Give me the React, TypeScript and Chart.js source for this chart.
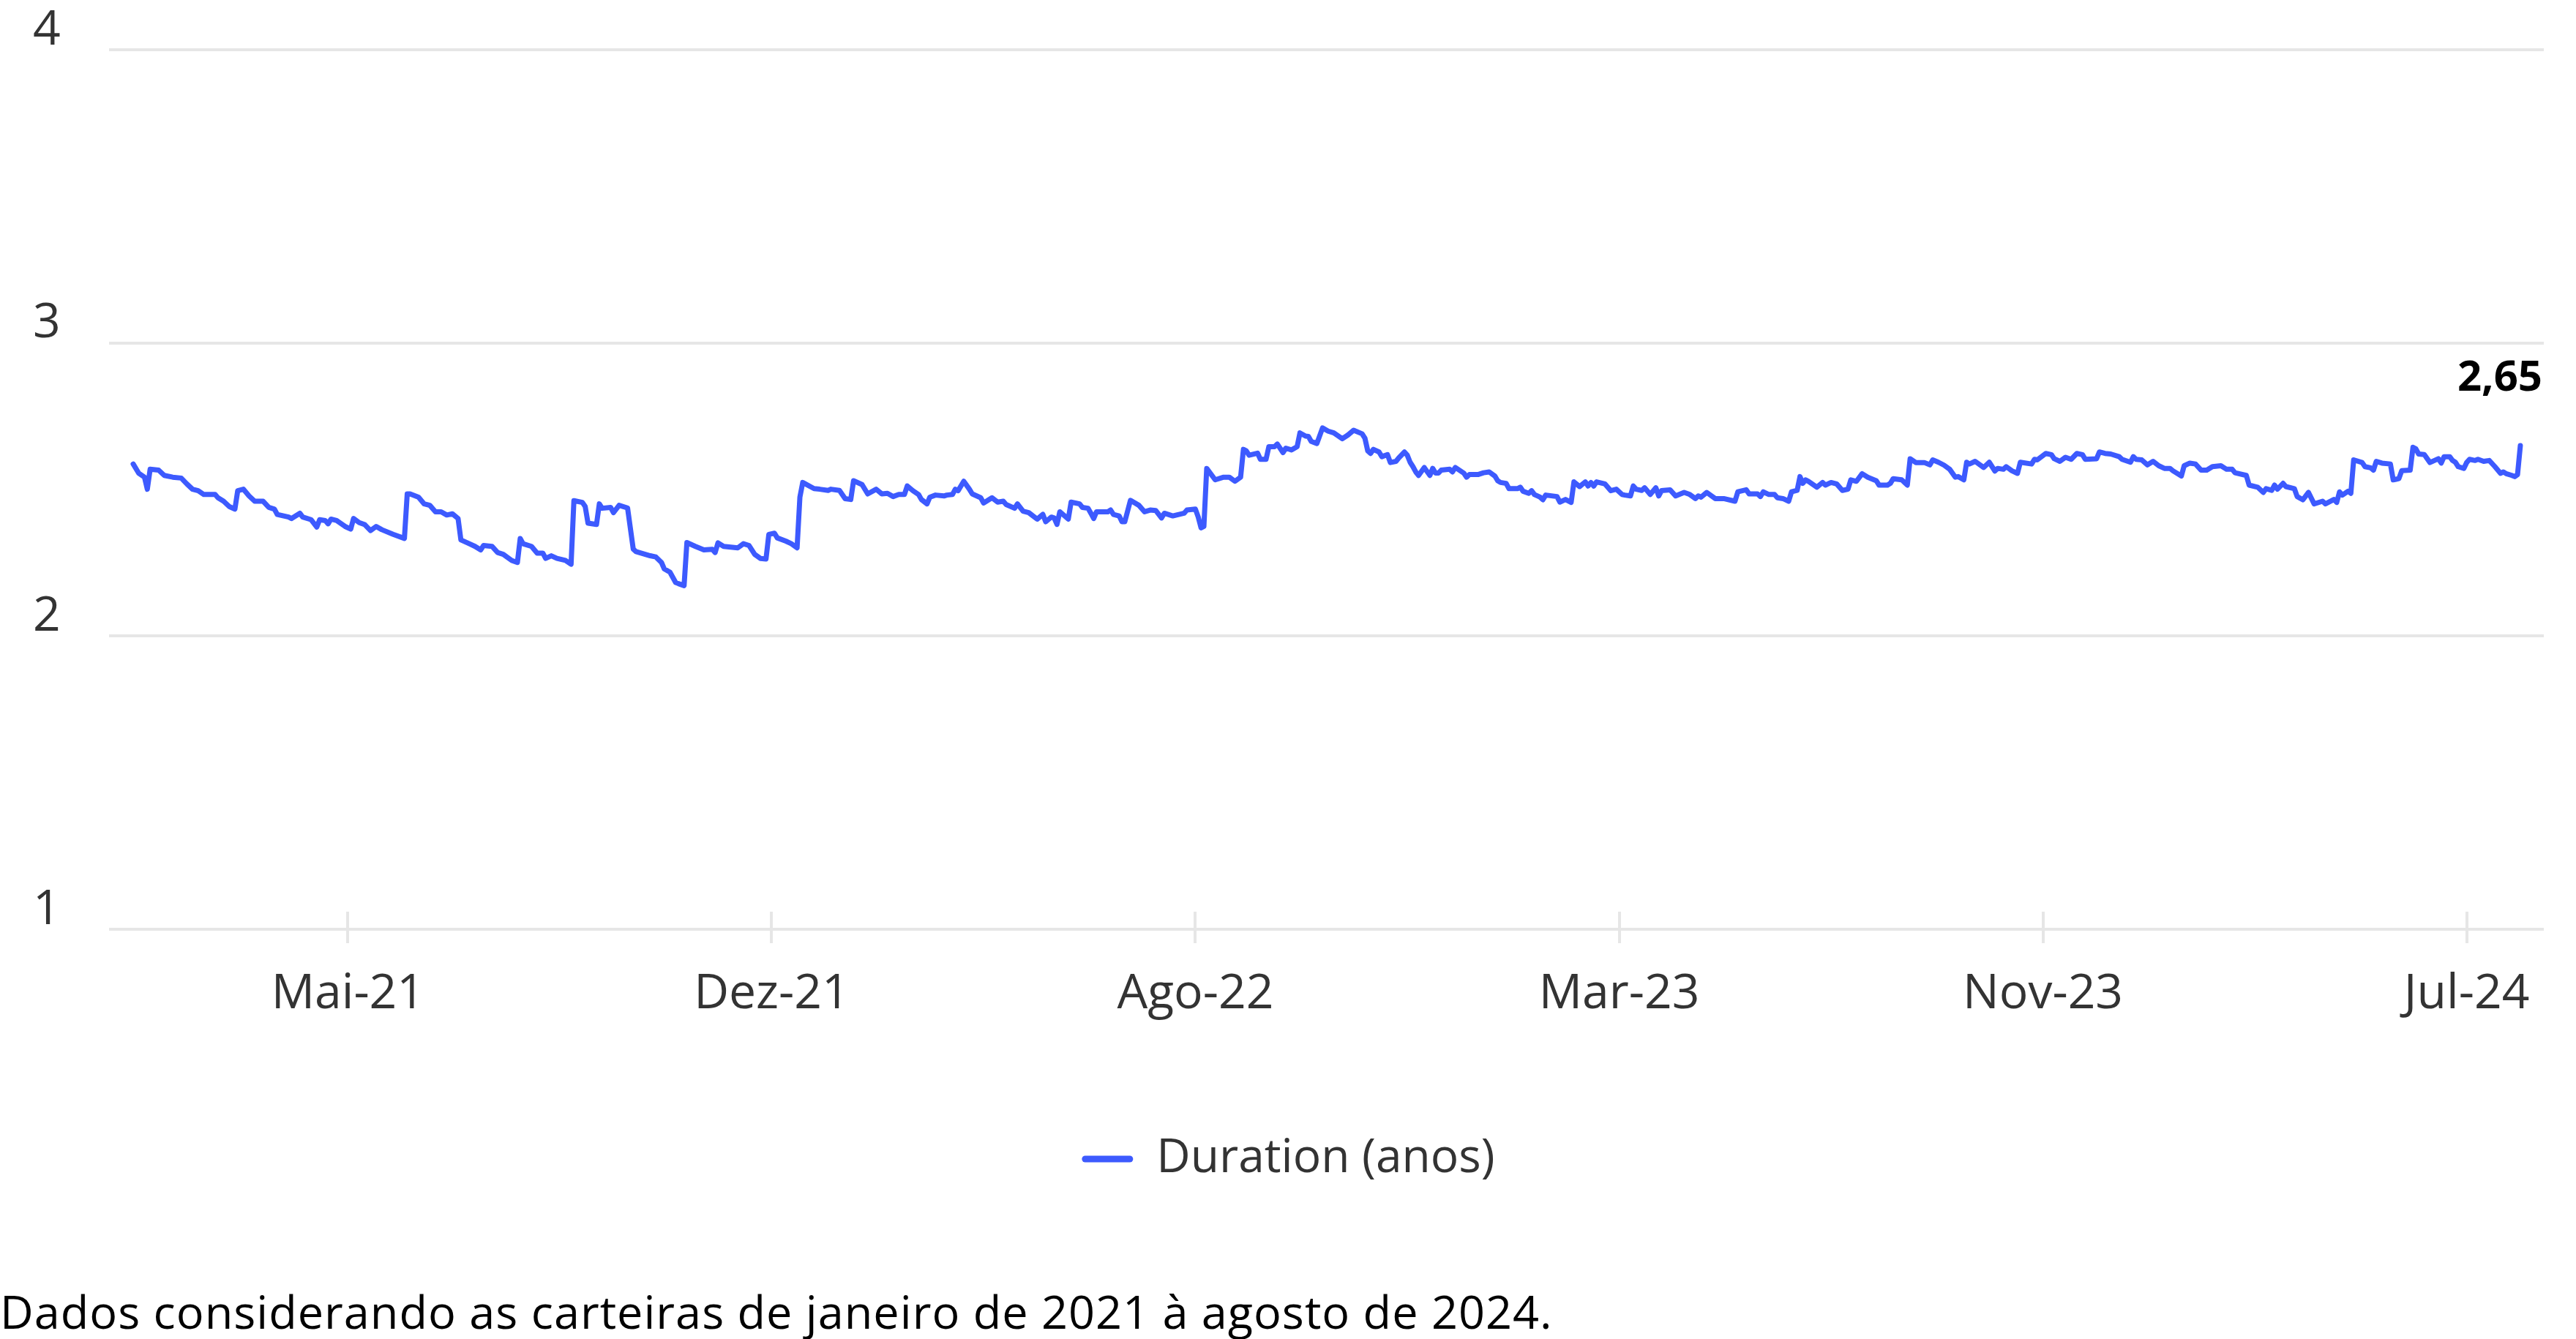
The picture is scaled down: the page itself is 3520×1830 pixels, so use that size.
import React, { useEffect, useRef } from "react";
import { Chart, registerables } from "chart.js";

Chart.register(...registerables);

// x position of each observation (business-day index from the first portfolio date)
const dayIndex: number[] = [
  0, 2, 4, 5, 6, 9, 11, 14, 17, 19, 21, 23, 25, 29, 30, 32, 34, 36, 37, 39,
  41, 43, 46, 48, 50, 51, 55, 56, 59, 60, 63, 65, 66, 68, 69, 70, 72, 75, 77, 78,
  80, 82, 84, 86, 88, 92, 96, 97, 98, 101, 103, 105, 107, 109, 111, 113, 115, 116, 119, 121,
  123, 124, 127, 129, 131, 134, 136, 137, 138, 141,
  143, 145, 146, 148, 150, 153, 155, 156, 159, 160, 161, 164, 165, 166, 169, 170, 172, 175, 177, 178,
  183, 185, 187, 188, 190, 192, 193, 195, 196, 199, 202, 205, 206, 207, 209, 214, 216, 218, 220, 222,
  224, 225, 227, 228, 231, 233, 235, 236, 237, 241, 243, 246, 247, 250, 252, 254, 255, 258, 260, 263,
  265, 267, 269, 271, 273, 274, 276, 278, 279, 281, 282, 284, 287,
  288, 290, 291, 292, 294, 296, 297, 300, 301, 304, 306, 308, 309, 312, 313, 315, 317, 320, 322, 323,
  325, 326, 327, 328, 331, 332, 335, 336, 338, 339, 340, 341, 345, 346, 347, 349, 350, 351, 353, 356,
  358, 360, 362, 364, 365, 368, 372, 373, 376, 377, 378, 379, 380, 383, 386, 388, 390, 392, 393, 394,
  395, 398, 399, 401, 402, 404, 405, 407, 408, 410, 412, 413, 415, 416, 417, 419, 421, 423, 425, 428,
  430, 432,
  435, 436, 437, 438, 439, 441, 442, 444, 445, 447, 448, 450, 451, 452, 453, 454, 455, 457, 459, 460,
  461, 462, 463, 466, 467, 468, 471, 472, 473, 476, 478, 480, 482, 483, 484, 486, 487, 490, 491, 492,
  494, 495, 496, 498, 499, 500, 504, 505, 507, 509, 510, 512, 514, 515, 516, 517, 518, 521, 523, 525,
  527, 528, 530, 531, 532, 534, 535, 537, 539, 540, 541, 544, 546, 549, 551, 553, 554, 555, 557, 560,
  563, 567, 568, 571, 572, 575, 576, 577,
  579, 581, 582, 584, 586, 587, 589, 590, 591, 592, 593, 596, 598, 599, 601, 603, 605, 607, 608, 610,
  612, 614, 617, 618, 621, 622, 623, 626, 628, 629, 631, 634, 636, 637, 639, 641, 643, 645, 646, 648,
  649, 650, 652, 655, 657, 659, 660, 662, 663, 665, 667, 668, 672, 673, 674, 677, 679, 680, 682, 684,
  686, 688, 690, 691, 695, 696, 698, 700, 703, 704, 707, 708, 709, 711, 713, 715, 717, 719, 721, 722,
  725, 726, 728, 730, 732, 734, 736, 739, 741, 743, 744, 748, 749, 752, 754, 755, 757, 758, 759, 761,
  762, 765, 766, 768, 770, 772, 775, 776, 779, 780, 781, 782, 784, 785, 786, 789, 790, 792, 793, 794,
  796, 799, 800, 801, 802, 803, 806, 807, 808, 809, 811, 813, 816, 817, 818, 820, 821, 822, 823, 825,
  826, 827, 829, 830, 832, 834, 836, 838, 839, 840, 842, 843, 844, 845,
];

// Duration (anos) at each observation
const duration: number[] = [
  2.587, 2.555, 2.542, 2.501, 2.569, 2.566, 2.548, 2.542, 2.539, 2.519, 2.501, 2.496, 2.483, 2.483, 2.472, 2.46, 2.442, 2.433, 2.496, 2.501,
  2.478, 2.46, 2.46, 2.439, 2.433, 2.415, 2.406, 2.401, 2.419, 2.406, 2.397, 2.372, 2.397, 2.394, 2.383, 2.399, 2.394, 2.374, 2.365, 2.401,
  2.387, 2.38, 2.36, 2.374, 2.363, 2.347, 2.333, 2.485, 2.485, 2.474, 2.451, 2.446, 2.424, 2.424, 2.413, 2.417, 2.401, 2.328, 2.315, 2.306,
  2.294, 2.309, 2.306, 2.285, 2.279, 2.258, 2.251, 2.333, 2.315, 2.306,
  2.283, 2.283, 2.265, 2.274, 2.265, 2.258, 2.245, 2.462, 2.456, 2.442, 2.385, 2.381, 2.451, 2.436, 2.439, 2.421, 2.446, 2.437, 2.297, 2.288,
  2.274, 2.27, 2.251, 2.229, 2.218, 2.183, 2.179, 2.172, 2.319, 2.306, 2.294, 2.296, 2.285, 2.318, 2.306, 2.301, 2.315, 2.309, 2.279, 2.265,
  2.263, 2.347, 2.351, 2.335, 2.324, 2.315, 2.301, 2.474, 2.524, 2.503, 2.501, 2.497, 2.501, 2.497, 2.469, 2.466, 2.53, 2.517, 2.485, 2.501,
  2.485, 2.487, 2.476, 2.483, 2.483, 2.512, 2.496, 2.483, 2.466, 2.451, 2.474, 2.481, 2.478,
  2.481, 2.483, 2.501, 2.496, 2.528, 2.501, 2.485, 2.472, 2.454, 2.472, 2.457, 2.46, 2.449, 2.436, 2.451, 2.426, 2.421, 2.399, 2.415, 2.39,
  2.406, 2.403, 2.381, 2.424, 2.399, 2.457, 2.451, 2.439, 2.436, 2.419, 2.401, 2.424, 2.424, 2.43, 2.415, 2.41, 2.39, 2.39, 2.463, 2.446,
  2.424, 2.43, 2.428, 2.403, 2.419, 2.41, 2.419, 2.43, 2.433, 2.406, 2.369, 2.374, 2.572, 2.533, 2.542, 2.542, 2.528, 2.542, 2.637, 2.632,
  2.617, 2.624, 2.603, 2.603, 2.646, 2.646, 2.655, 2.626, 2.641, 2.635, 2.646, 2.693, 2.682, 2.681, 2.664, 2.657, 2.71, 2.699, 2.693, 2.673,
  2.686, 2.702,
  2.69, 2.675, 2.632, 2.623, 2.637, 2.628, 2.612, 2.619, 2.592, 2.596, 2.608, 2.628, 2.617, 2.593, 2.578, 2.56, 2.548, 2.575, 2.548, 2.572,
  2.556, 2.556, 2.566, 2.569, 2.56, 2.575, 2.556, 2.542, 2.551, 2.551, 2.557, 2.56, 2.546, 2.53, 2.524, 2.521, 2.503, 2.503, 2.508, 2.494,
  2.487, 2.496, 2.483, 2.474, 2.465, 2.481, 2.476, 2.457, 2.466, 2.456, 2.526, 2.51, 2.526, 2.512, 2.524, 2.512, 2.526, 2.519, 2.496, 2.501,
  2.483, 2.481, 2.478, 2.512, 2.501, 2.497, 2.506, 2.483, 2.506, 2.478, 2.496, 2.499, 2.478, 2.49, 2.483, 2.469, 2.478, 2.474, 2.49, 2.469,
  2.469, 2.46, 2.492, 2.499, 2.485, 2.485, 2.476, 2.492,
  2.483, 2.483, 2.472, 2.469, 2.46, 2.492, 2.497, 2.544, 2.521, 2.533, 2.528, 2.508, 2.524, 2.515, 2.524, 2.519, 2.497, 2.501, 2.533, 2.528,
  2.554, 2.542, 2.53, 2.515, 2.515, 2.521, 2.537, 2.533, 2.515, 2.605, 2.592, 2.592, 2.584, 2.601, 2.593, 2.583, 2.569, 2.542, 2.544, 2.533,
  2.593, 2.587, 2.596, 2.575, 2.593, 2.563, 2.572, 2.569, 2.578, 2.564, 2.555, 2.593, 2.587, 2.603, 2.601, 2.623, 2.619, 2.605, 2.596, 2.61,
  2.603, 2.623, 2.619, 2.603, 2.605, 2.628, 2.623, 2.621, 2.612, 2.603, 2.593, 2.612, 2.603, 2.601, 2.584, 2.596, 2.581, 2.572, 2.572, 2.564,
  2.546, 2.581, 2.59, 2.587, 2.566, 2.566, 2.578, 2.581, 2.569, 2.569, 2.557, 2.548, 2.515, 2.508, 2.49, 2.503, 2.497, 2.515, 2.501, 2.521,
  2.51, 2.503, 2.476, 2.465, 2.49, 2.451, 2.46, 2.451, 2.466, 2.456, 2.492, 2.481, 2.494, 2.487, 2.601, 2.592, 2.578, 2.574, 2.566, 2.596,
  2.59, 2.587, 2.533, 2.535, 2.537, 2.564, 2.566, 2.644, 2.639, 2.621, 2.619, 2.592, 2.605, 2.59, 2.612, 2.612, 2.599, 2.593, 2.578, 2.572,
  2.592, 2.603, 2.599, 2.603, 2.596, 2.599, 2.578, 2.555, 2.56, 2.554, 2.548, 2.544, 2.551, 2.65,
];

const tickIndex: number[] = [76, 226, 376, 526, 676, 826];
const tickLabels: string[] = ["Mai-21", "Dez-21", "Ago-22", "Mar-23", "Nov-23", "Jul-24"];
const yTickValues: number[] = [1, 2, 3, 4];
const seriesLabel = "Duration (anos)";
const footnote = "Dados considerando as carteiras de janeiro de 2021 à agosto de 2024.";

const LINE_COLOR = "#3D5AFE";
const GRID_COLOR = "#e6e6e6";
const TEXT_COLOR = "#333333";
const FONT = "'Open Sans', 'Noto Sans', sans-serif";

const tickMarksPlugin = {
  id: "tickMarks",
  beforeDatasetsDraw(chart: any) {
    const { ctx, chartArea } = chart;
    const x = chart.scales.x;
    ctx.save();
    ctx.strokeStyle = GRID_COLOR;
    ctx.lineWidth = 4;
    x.ticks.forEach((t: any) => {
      const px = Math.round(x.getPixelForValue(t.value));
      ctx.beginPath();
      ctx.moveTo(px, chartArea.bottom - 24);
      ctx.lineTo(px, chartArea.bottom + 19);
      ctx.stroke();
    });
    ctx.restore();
  },
};

const lastValuePlugin = {
  id: "lastValue",
  afterDatasetsDraw(chart: any) {
    const meta = chart.getDatasetMeta(0);
    const pt = meta.data[meta.data.length - 1];
    if (!pt) return;
    const v = duration[duration.length - 1];
    const { ctx } = chart;
    ctx.save();
    ctx.font = `bold 58px ${FONT}`;
    ctx.fillStyle = "#000000";
    ctx.textAlign = "right";
    ctx.textBaseline = "alphabetic";
    ctx.fillText(v.toFixed(2).replace(".", ","), pt.x + 30, pt.y - 75);
    ctx.restore();
  },
};

export default function App() {
  const canvasRef = useRef<HTMLCanvasElement | null>(null);

  useEffect(() => {
    const canvas = canvasRef.current;
    if (!canvas) return;
    const points = dayIndex.map((d, i) => ({ x: d, y: duration[i] }));
    const chart = new Chart(canvas, {
      type: "line",
      data: {
        datasets: [
          {
            label: seriesLabel,
            data: points,
            borderColor: LINE_COLOR,
            backgroundColor: LINE_COLOR,
            borderWidth: 7,
            pointRadius: 0,
            pointHoverRadius: 0,
            tension: 0,
            borderJoinStyle: "round",
            borderCapStyle: "round",
            fill: false,
          },
        ],
      },
      plugins: [tickMarksPlugin, lastValuePlugin],
      options: {
        animation: false,
        responsive: false,
        devicePixelRatio: 1,
        layout: { padding: { top: 68, left: 45, right: 44, bottom: 74 } },
        scales: {
          x: {
            type: "linear",
            min: -8.55,
            max: 853.3,
            grid: { display: false, drawTicks: false },
            border: { display: false },
            afterBuildTicks: (scale: any) => {
              scale.ticks = tickIndex.map((v) => ({ value: v }));
            },
            afterFit: (scale: any) => {
              scale.height = 261;
            },
            ticks: {
              autoSkip: false,
              maxRotation: 0,
              padding: 50,
              color: TEXT_COLOR,
              font: { family: FONT, size: 66 },
              callback: (_v: any, index: number) => tickLabels[index] ?? "",
            },
          },
          y: {
            min: 1,
            max: 4,
            afterBuildTicks: (scale: any) => {
              scale.ticks = yTickValues.map((v) => ({ value: v }));
            },
            afterFit: (scale: any) => {
              scale.width = 104;
            },
            grid: { color: GRID_COLOR, lineWidth: 4, drawTicks: false },
            border: { display: false },
            ticks: {
              padding: 0,
              crossAlign: "far",
              labelOffset: -26,
              color: TEXT_COLOR,
              font: { family: FONT, size: 66 },
              callback: (v: any) => String(v),
            },
          },
        },
        plugins: {
          tooltip: { enabled: false },
          legend: {
            position: "bottom",
            align: "center",
            labels: {
              color: TEXT_COLOR,
              font: { family: FONT, size: 64 },
              boxWidth: 70,
              boxHeight: 9,
              useBorderRadius: true,
              borderRadius: 4.5,
              padding: 21,
              generateLabels: (c: any) =>
                Chart.defaults.plugins.legend.labels.generateLabels(c).map((l: any) => ({
                  ...l,
                  fillStyle: LINE_COLOR,
                  strokeStyle: LINE_COLOR,
                  lineWidth: 0,
                })),
            },
          },
        },
      } as any,
    });
    return () => chart.destroy();
  }, []);

  return (
    <div style={{ position: "absolute", left: 0, top: 0, width: 3520, height: 1830, background: "#ffffff" }}>
      <canvas ref={canvasRef} width={3520} height={1700} style={{ display: "block", width: 3520, height: 1700 }} />
      <div
        style={{
          position: "absolute",
          left: 0,
          top: 1760,
          fontFamily: FONT,
          fontSize: 63,
          lineHeight: "63px",
          letterSpacing: "1px",
          color: "#000000",
          whiteSpace: "nowrap",
        }}
      >
        {footnote}
      </div>
    </div>
  );
}
